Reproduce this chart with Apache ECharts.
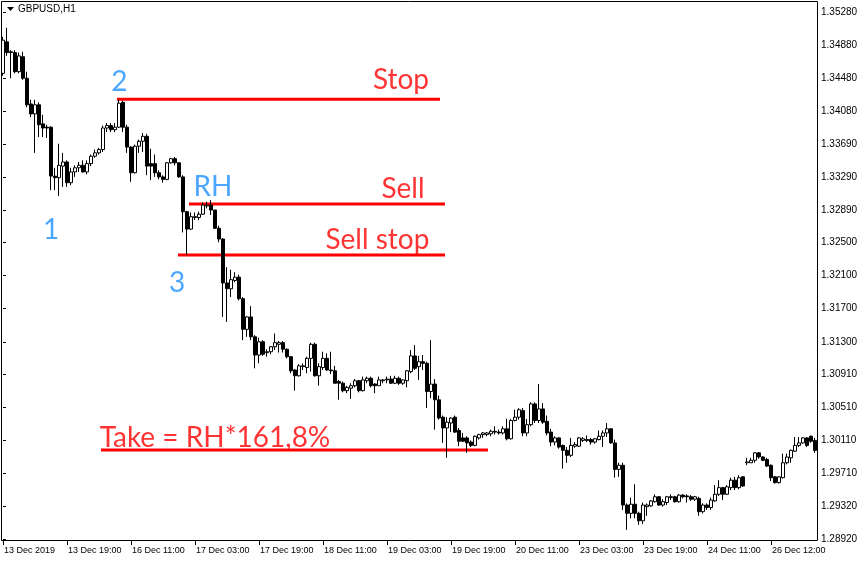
<!DOCTYPE html>
<html>
<head>
<meta charset="utf-8">
<title>GBPUSD,H1</title>
<script src="https://cdn.jsdelivr.net/npm/echarts@6/dist/echarts.min.js"></script>
<style>
  html, body { margin: 0; padding: 0; background: #fff; }
  #chart { width: 862px; height: 561px; }
</style>
</head>
<body>
<div id="chart"></div>
<script>
// time axis labels, one every 16 hourly bars
var timeLabels = ['13 Dec 2019', '13 Dec 19:00', '16 Dec 11:00', '17 Dec 03:00', '17 Dec 19:00',
  '18 Dec 11:00', '19 Dec 03:00', '19 Dec 19:00', '20 Dec 11:00', '23 Dec 03:00',
  '23 Dec 19:00', '24 Dec 11:00', '26 Dec 12:00'];

// price scale labels
var priceTicks = [1.28920, 1.29320, 1.29710, 1.30110, 1.30510, 1.30910, 1.31300, 1.31700, 1.32100,
  1.32500, 1.32890, 1.33290, 1.33690, 1.34080, 1.34480, 1.34880, 1.35280];

// H1 bars: [open, close, low, high]
var candles = [
  [1.3454,1.3494,1.3451,1.3498],[1.3492,1.3479,1.3475,1.3509],[1.3480,1.3479,1.3448,1.3482],[1.3479,1.3456,1.3454,1.3482],
  [1.3456,1.3475,1.3454,1.3479],[1.3474,1.3448,1.3446,1.3480],[1.3448,1.3416,1.3413,1.3456],[1.3417,1.3405,1.3401,1.3422],
  [1.3405,1.3416,1.3358,1.3422],[1.3416,1.3392,1.3377,1.3419],[1.3393,1.3388,1.3377,1.3404],[1.3389,1.3388,1.3376,1.3392],
  [1.3389,1.3330,1.3313,1.3390],[1.3330,1.3328,1.3313,1.3340],[1.3328,1.3343,1.3306,1.3369],[1.3342,1.3347,1.3317,1.3358],
  [1.3347,1.3322,1.3317,1.3349],[1.3322,1.3335,1.3319,1.3340],[1.3335,1.3340,1.3329,1.3343],[1.3340,1.3343,1.3335,1.3347],
  [1.3343,1.3335,1.3334,1.3349],[1.3335,1.3345,1.3332,1.3349],[1.3345,1.3354,1.3342,1.3356],[1.3354,1.3358,1.3352,1.3362],
  [1.3358,1.3362,1.3356,1.3364],[1.3362,1.3388,1.3359,1.3391],[1.3388,1.3391,1.3383,1.3394],[1.3391,1.3386,1.3383,1.3394],
  [1.3386,1.3389,1.3383,1.3394],[1.3389,1.3418,1.3388,1.3422],[1.3419,1.3389,1.3383,1.3421],[1.3389,1.3365,1.3358,1.3392],
  [1.3365,1.3334,1.3323,1.3366],[1.3334,1.3366,1.3333,1.3368],[1.3366,1.3372,1.3358,1.3374],[1.3372,1.3378,1.3359,1.3382],
  [1.3378,1.3342,1.3331,1.3381],[1.3345,1.3342,1.3325,1.3363],[1.3345,1.3334,1.3329,1.3356],[1.3334,1.3329,1.3326,1.3337],
  [1.3329,1.3326,1.3322,1.3331],[1.3326,1.3346,1.3325,1.3347],[1.3346,1.3351,1.3345,1.3352],[1.3351,1.3346,1.3343,1.3353],
  [1.3346,1.3329,1.3328,1.3347],[1.3329,1.3287,1.3262,1.3331],[1.3287,1.3266,1.3235,1.3288],[1.3266,1.3281,1.3265,1.3286],
  [1.3280,1.3281,1.3277,1.3286],[1.3280,1.3284,1.3277,1.3287],[1.3284,1.3295,1.3283,1.3298],[1.3294,1.3295,1.3291,1.3299],
  [1.3295,1.3289,1.3283,1.3301],[1.3289,1.3267,1.3266,1.3289],[1.3267,1.3254,1.3250,1.3270],[1.3254,1.3201,1.3160,1.3255],
  [1.3201,1.3194,1.3154,1.3220],[1.3194,1.3205,1.3184,1.3217],[1.3204,1.3208,1.3202,1.3214],[1.3208,1.3182,1.3180,1.3211],
  [1.3182,1.3145,1.3132,1.3184],[1.3145,1.3160,1.3136,1.3161],[1.3160,1.3136,1.3132,1.3173],[1.3136,1.3114,1.3098,1.3138],
  [1.3114,1.3130,1.3104,1.3135],[1.3130,1.3115,1.3113,1.3132],[1.3117,1.3118,1.3112,1.3121],[1.3118,1.3124,1.3115,1.3125],
  [1.3124,1.3129,1.3120,1.3140],[1.3127,1.3129,1.3117,1.3131],[1.3129,1.3121,1.3117,1.3131],[1.3121,1.3112,1.3110,1.3122],
  [1.3112,1.3095,1.3092,1.3113],[1.3096,1.3089,1.3071,1.3097],[1.3089,1.3101,1.3088,1.3103],[1.3100,1.3101,1.3096,1.3104],
  [1.3099,1.3110,1.3092,1.3112],[1.3110,1.3127,1.3094,1.3129],[1.3127,1.3089,1.3088,1.3129],[1.3089,1.3100,1.3077,1.3104],
  [1.3099,1.3110,1.3096,1.3118],[1.3110,1.3096,1.3095,1.3116],[1.3096,1.3095,1.3091,1.3118],[1.3095,1.3080,1.3080,1.3101],
  [1.3082,1.3080,1.3060,1.3084],[1.3080,1.3071,1.3069,1.3082],[1.3071,1.3075,1.3068,1.3077],[1.3074,1.3077,1.3061,1.3080],
  [1.3077,1.3083,1.3075,1.3085],[1.3083,1.3071,1.3069,1.3084],[1.3071,1.3084,1.3070,1.3088],[1.3083,1.3086,1.3080,1.3088],
  [1.3086,1.3077,1.3075,1.3088],[1.3079,1.3077,1.3068,1.3080],[1.3077,1.3084,1.3077,1.3088],[1.3083,1.3084,1.3080,1.3085],
  [1.3084,1.3085,1.3080,1.3088],[1.3085,1.3080,1.3079,1.3089],[1.3080,1.3086,1.3079,1.3089],[1.3086,1.3080,1.3078,1.3088],
  [1.3080,1.3084,1.3078,1.3085],[1.3083,1.3095,1.3075,1.3096],[1.3094,1.3113,1.3092,1.3120],[1.3113,1.3098,1.3096,1.3126],
  [1.3100,1.3106,1.3084,1.3113],[1.3106,1.3104,1.3096,1.3114],[1.3104,1.3070,1.3050,1.3106],[1.3070,1.3079,1.3062,1.3132],
  [1.3079,1.3060,1.3024,1.3085],[1.3060,1.3038,1.3036,1.3065],[1.3039,1.3026,1.3008,1.3041],[1.3026,1.3033,1.2990,1.3039],
  [1.3032,1.3038,1.3021,1.3039],[1.3039,1.3021,1.3020,1.3041],[1.3023,1.3010,1.3004,1.3026],[1.3014,1.3010,1.3009,1.3020],
  [1.3014,1.3008,1.2996,1.3016],[1.3009,1.3005,1.3003,1.3011],[1.3005,1.3016,1.3004,1.3017],[1.3014,1.3018,1.3012,1.3019],
  [1.3018,1.3020,1.3014,1.3021],[1.3018,1.3020,1.3016,1.3021],[1.3019,1.3022,1.3016,1.3024],[1.3022,1.3021,1.3018,1.3028],
  [1.3021,1.3020,1.3018,1.3024],[1.3020,1.3025,1.3018,1.3028],[1.3025,1.3013,1.3011,1.3037],[1.3013,1.3035,1.3012,1.3037],
  [1.3035,1.3039,1.3034,1.3048],[1.3039,1.3048,1.3036,1.3050],[1.3047,1.3020,1.3016,1.3050],[1.3020,1.3030,1.3016,1.3037],
  [1.3030,1.3055,1.3028,1.3057],[1.3055,1.3035,1.3032,1.3057],[1.3035,1.3049,1.3032,1.3079],[1.3049,1.3033,1.3031,1.3056],
  [1.3034,1.3020,1.3017,1.3041],[1.3021,1.3009,1.3004,1.3025],[1.3009,1.3014,1.3005,1.3016],[1.3014,1.3003,1.3001,1.3015],
  [1.3005,1.2999,1.2977,1.3006],[1.2999,1.2993,1.2984,1.3003],[1.2993,1.3005,1.2991,1.3014],[1.3004,1.3006,1.3002,1.3009],
  [1.3004,1.3014,1.3003,1.3015],[1.3011,1.3013,1.3009,1.3015],[1.3012,1.3011,1.3009,1.3017],[1.3012,1.3009,1.3006,1.3014],
  [1.3009,1.3013,1.3007,1.3014],[1.3012,1.3016,1.3011,1.3023],[1.3016,1.3020,1.3003,1.3023],[1.3020,1.3025,1.3015,1.3032],
  [1.3025,1.3008,1.3007,1.3026],[1.3008,1.2976,1.2966,1.3012],[1.2976,1.2981,1.2967,1.2984],[1.2981,1.2933,1.2927,1.2984],
  [1.2933,1.2923,1.2903,1.2935],[1.2923,1.2934,1.2917,1.2942],[1.2934,1.2923,1.2917,1.2958],[1.2923,1.2914,1.2909,1.2925],
  [1.2914,1.2933,1.2910,1.2936],[1.2931,1.2933,1.2920,1.2935],[1.2932,1.2938,1.2931,1.2939],[1.2937,1.2943,1.2936,1.2946],
  [1.2943,1.2933,1.2932,1.2944],[1.2933,1.2937,1.2931,1.2940],[1.2936,1.2943,1.2933,1.2944],[1.2943,1.2942,1.2939,1.2946],
  [1.2943,1.2937,1.2936,1.2944],[1.2937,1.2945,1.2936,1.2946],[1.2945,1.2943,1.2941,1.2946],[1.2944,1.2943,1.2936,1.2946],
  [1.2943,1.2940,1.2938,1.2945],[1.2940,1.2943,1.2938,1.2944],[1.2941,1.2925,1.2920,1.2943],[1.2925,1.2933,1.2923,1.2935],
  [1.2933,1.2930,1.2927,1.2935],[1.2930,1.2939,1.2927,1.2942],[1.2938,1.2946,1.2937,1.2957],[1.2946,1.2954,1.2944,1.2963],
  [1.2954,1.2946,1.2939,1.2955],[1.2946,1.2955,1.2945,1.2957],[1.2954,1.2963,1.2951,1.2966],[1.2963,1.2954,1.2951,1.2967],
  [1.2954,1.2966,1.2952,1.2969],[1.2967,1.2956,1.2955,1.2968],[1.2984,1.2985,1.2981,1.2990],[1.2984,1.2987,1.2984,1.2990],
  [1.2987,1.2996,1.2984,1.2997],[1.2996,1.2991,1.2989,1.2997],[1.2991,1.2987,1.2986,1.2992],[1.2988,1.2980,1.2979,1.2990],
  [1.2981,1.2966,1.2962,1.2982],[1.2967,1.2960,1.2959,1.2968],[1.2960,1.2967,1.2959,1.2968],[1.2966,1.2984,1.2965,1.2995],
  [1.2984,1.2991,1.2982,1.2995],[1.2990,1.2999,1.2984,1.3000],[1.2998,1.3005,1.2997,1.3015],[1.3005,1.3008,1.3003,1.3015],
  [1.3008,1.3014,1.3007,1.3015],[1.3014,1.3005,1.3003,1.3015],[1.3016,1.3010,1.3008,1.3017],[1.3011,1.2999,1.2996,1.3014]
];

// drawn levels: price and bar span
var levelNames = ['Stop', 'Sell', 'Sell stop', 'Take = RH*161,8%'];
var levelPrices = [1.34228, 1.32963, 1.32348, 1.29994];
var levelFrom = [28.5, 46.5, 43.75, 24.5];
var levelTo = [109.25, 110.5, 110.5, 121.25];
var levelTextBar = [99.5, 100, 93.6, 53];
var levelTextPrice = [1.34459, 1.33145, 1.32529, 1.30139];

// wave marks
var waveNames = ['1', '2', '3', 'RH'];
var waveBar = [12, 29.1, 43.5, 52.5];
var wavePrice = [1.32650, 1.34436, 1.32010, 1.33169];

var chart = echarts.init(document.getElementById('chart'), null, { renderer: 'canvas' });

var barIdx = candles.map(function (c, i) { return String(i); });
var n = candles.length;

var levelSeries = levelNames.map(function (name, k) {
  return {
    type: 'line',
    name: name,
    xAxisIndex: 1,
    yAxisIndex: 0,
    data: [[levelFrom[k], levelPrices[k]], [levelTo[k], levelPrices[k]]],
    symbol: 'none',
    silent: true,
    z: 2,
    lineStyle: { color: '#ff0000', width: 3, cap: 'butt' }
  };
});

var textFont = 'Lato, "Noto Sans", sans-serif';

var option = {
  animation: false,
  backgroundColor: '#ffffff',
  grid: { left: 1, right: 45, top: 1, bottom: 21, show: false },
  xAxis: [{
    type: 'category',
    data: barIdx,
    boundaryGap: true,
    axisLine: { show: false },
    axisTick: { show: true, interval: 15, alignWithLabel: true, length: 5, lineStyle: { color: '#000' } },
    axisLabel: {
      interval: 15, align: 'left', margin: 6, padding: [0, 0, 0, 1],
      color: '#000', fontFamily: '"Liberation Sans", Arial, sans-serif', fontSize: 9,
      formatter: function (v, i) { return timeLabels[i / 16] || ''; }
    },
    splitLine: { show: false }
  }, {
    type: 'value', min: -0.5, max: n - 0.5, show: false
  }],
  yAxis: {
    type: 'value',
    position: 'right',
    min: 1.289081,
    max: 1.354127,
    axisLine: { show: false },
    axisTick: { show: true, customValues: priceTicks, length: 3, lineStyle: { color: '#000' } },
    axisLabel: {
      customValues: priceTicks, margin: 4, color: '#000',
      fontFamily: '"Liberation Sans", Arial, sans-serif', fontSize: 10,
      formatter: function (v) { return v.toFixed(5); }
    },
    splitLine: { show: false }
  },
  graphic: [
    { type: 'rect', silent: true, z: 100, shape: { x: 1.5, y: 1.5, width: 816, height: 539 },
      style: { fill: null, stroke: '#000', lineWidth: 1 } },
    { type: 'polygon', silent: true, z: 100, shape: { points: [[7, 7], [14, 7], [10.5, 11]] },
      style: { fill: '#000' } },
    { type: 'text', silent: true, z: 100, x: 18, y: 9,
      style: { text: 'GBPUSD,H1', fill: '#000', font: '10px "Liberation Sans", Arial, sans-serif', verticalAlign: 'middle' } }
  ],
  series: levelSeries.concat([{
    type: 'candlestick',
    data: candles,
    barWidth: 3,
    z: 3,
    silent: true,
    itemStyle: { color: '#ffffff', color0: '#000000', borderColor: '#000000', borderColor0: '#000000', borderWidth: 1 }
  }, {
    type: 'scatter',
    xAxisIndex: 1,
    silent: true,
    symbolSize: 1,
    itemStyle: { color: 'rgba(0,0,0,0)' },
    z: 4,
    data: levelNames.map(function (name, k) { return { value: [levelTextBar[k], levelTextPrice[k]], name: name }; }),
    label: { show: true, position: 'inside', formatter: '{b}', color: '#ff0000', fontFamily: textFont, fontSize: 28 }
  }, {
    type: 'scatter',
    xAxisIndex: 1,
    silent: true,
    symbolSize: 1,
    itemStyle: { color: 'rgba(0,0,0,0)' },
    z: 4,
    data: waveNames.map(function (name, k) { return { value: [waveBar[k], wavePrice[k]], name: name }; }),
    label: { show: true, position: 'inside', formatter: '{b}', color: '#1e90ff', fontFamily: textFont, fontSize: 28 }
  }])
};

chart.setOption(option);
</script>
</body>
</html>
